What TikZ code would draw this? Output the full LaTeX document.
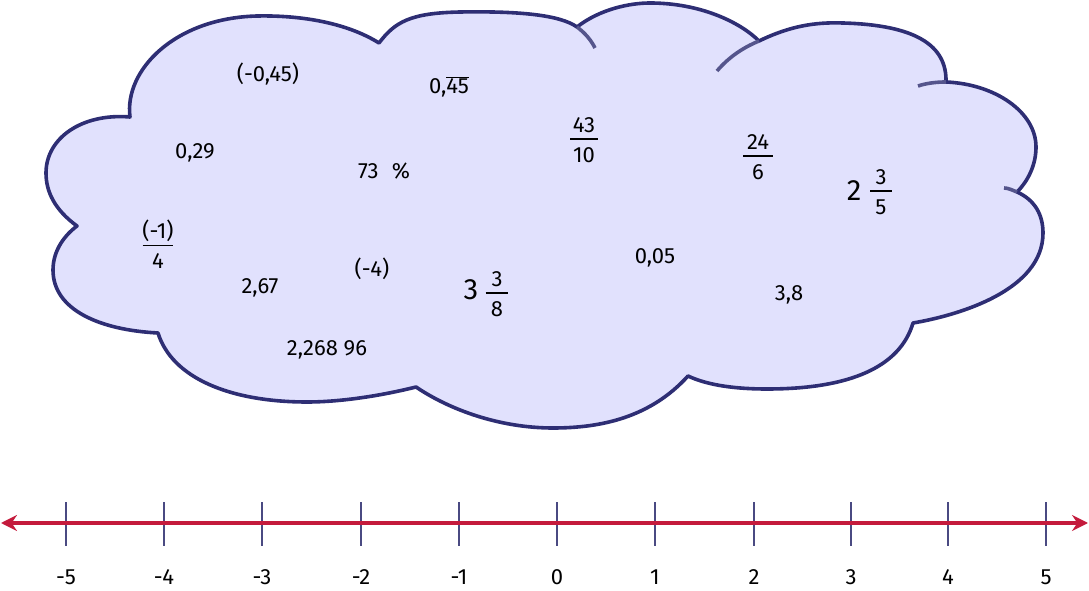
\documentclass[tikz,border=0pt]{standalone}
\usepackage{fontspec}
\setmainfont{Fira Sans}
\usetikzlibrary{arrows.meta}
\definecolor{cloudfill}{HTML}{E1E1FD}
\definecolor{cloudline}{HTML}{2E2E74}
\definecolor{tailline}{HTML}{55558C}
\definecolor{tickcol}{HTML}{4A4A82}
\definecolor{axisred}{HTML}{C41A3C}
\newcommand{\fr}[3]{\begin{tabular}{@{}c@{}}\makebox[#1]{#2}\\[-1pt]\hline\rule{0pt}{16.5pt}\makebox[#1]{#3}\end{tabular}}
\begin{document}
\begin{tikzpicture}[x=0.75pt,y=-0.75pt]
\setlength{\arrayrulewidth}{1.3pt}
\tikzset{
  lbl/.style={font=\fontsize{16.5}{19}\selectfont, inner sep=0pt, text=black},
  bignum/.style={font=\fontsize{22}{25}\selectfont, inner sep=0pt, text=black},
  cloudshape/.style={draw=cloudline, fill=cloudfill, line width=2.7pt, line join=round},
  tailstroke/.style={draw=tailline, line width=2.7pt},
  tickstroke/.style={draw=tickcol, line width=2.2pt},
  axisstroke/.style={draw=axisred, line width=2.4pt,
     {Stealth[length=12pt,width=12pt,inset=4pt]}-{Stealth[length=12pt,width=12pt,inset=4pt]}},
}
\useasboundingbox (0,0) rectangle (1089,591);

% cloud outline
\path[cloudshape]
  (130,117) .. controls (124,70) and (175,18) .. (257,16)
  .. controls (310,15) and (352,26) .. (379,43)
  .. controls (395,22) and (410,13) .. (460,12)
  .. controls (520,11) and (560,15) .. (577,27)
  .. controls (600,9) and (630,3) .. (650,3)
  .. controls (700,3) and (740,22) .. (759,41)
  .. controls (790,26) and (815,22) .. (843,23)
  .. controls (915,25) and (947,45) .. (946,82)
  .. controls (995,84) and (1036,112) .. (1036,147)
  .. controls (1036,165) and (1028,181) .. (1017,192)
  .. controls (1035,200) and (1043,215) .. (1043,233)
  .. controls (1043,290) and (960,315) .. (913,323)
  .. controls (900,367) and (850,389) .. (767,389)
  .. controls (730,389) and (705,384) .. (688,376)
  .. controls (650,418) and (600,428) .. (553,428)
  .. controls (500,428) and (450,410) .. (416,387)
  .. controls (380,396) and (340,402) .. (307,402)
  .. controls (230,402) and (172,378) .. (158,333)
  .. controls (100,330) and (53,310) .. (53,270)
  .. controls (53,250) and (65,235) .. (77,226)
  .. controls (55,210) and (46,192) .. (46,173)
  .. controls (46,138) and (82,113) .. cycle;

% inner tails of the cloud lobes
\coordinate (j1) at (577,27);  \coordinate (e1) at (595,48);
\coordinate (j2) at (759,41);  \coordinate (e2) at (717,71);
\coordinate (j3) at (946,82);  \coordinate (e3) at (918,86);
\coordinate (j4) at (1017,192); \coordinate (e4) at (1004,188);
\draw[tailstroke] (j1) .. controls (585,33) and (591,40) .. (e1);
\draw[tailstroke] (j2) .. controls (742,48) and (728,58) .. (e2);
\draw[tailstroke] (j3) .. controls (937,82) and (927,83) .. (e3);
\draw[tailstroke] (j4) .. controls (1012,190) and (1008,188) .. (e4);

% values in the cloud
\node[lbl] (v1) at (268,74) {(-0,45)};
\node[lbl] (v2) at (449,87) {0,$\overline{\mbox{45}}$};
\node[lbl] (v3) at (195,153) {0,29};
\node[lbl] (v4) at (384,171) {73\hspace{0.6em}\%};
\node[lbl] (v5) at (584,142) {\fr{21pt}{43}{10}};
\node[lbl] (v6) at (758,159) {\fr{22pt}{24}{6}};
\node[bignum] (v7w) at (854,191) {2};
\node[lbl] (v7f) at (881,194) {\fr{16.5pt}{3}{5}};
\node[lbl] (v8) at (158,248) {\fr{23pt}{(-1)}{4}};
\node[lbl] (v9) at (260,288) {2,67};
\node[lbl] (v10) at (372,269) {(-4)};
\node[bignum] (v11w) at (471,290) {3};
\node[lbl] (v11f) at (497,296) {\fr{17pt}{3}{8}};
\node[lbl] (v12) at (655,258) {0,05};
\node[lbl] (v13) at (789,295) {3,8};
\node[lbl] (v14) at (327,350) {2,268 96};

% number line
\coordinate (axL) at (1,523);
\coordinate (axR) at (1088,523);
\foreach \k/\xx/\t in {0/66/-5,1/164/-4,2/262/-3,3/361/-2,4/459/-1,5/557/0,6/655/1,7/754/2,8/851/3,9/948/4,10/1046/5}{
  \coordinate (ta\k) at (\xx,502);
  \coordinate (tb\k) at (\xx,546);
  \draw[tickstroke] (ta\k) -- (tb\k);
  \node[lbl] (n\k) at (\xx,577) {\t};
}
\draw[axisstroke] (axL) -- (axR);
\end{tikzpicture}
\end{document}
